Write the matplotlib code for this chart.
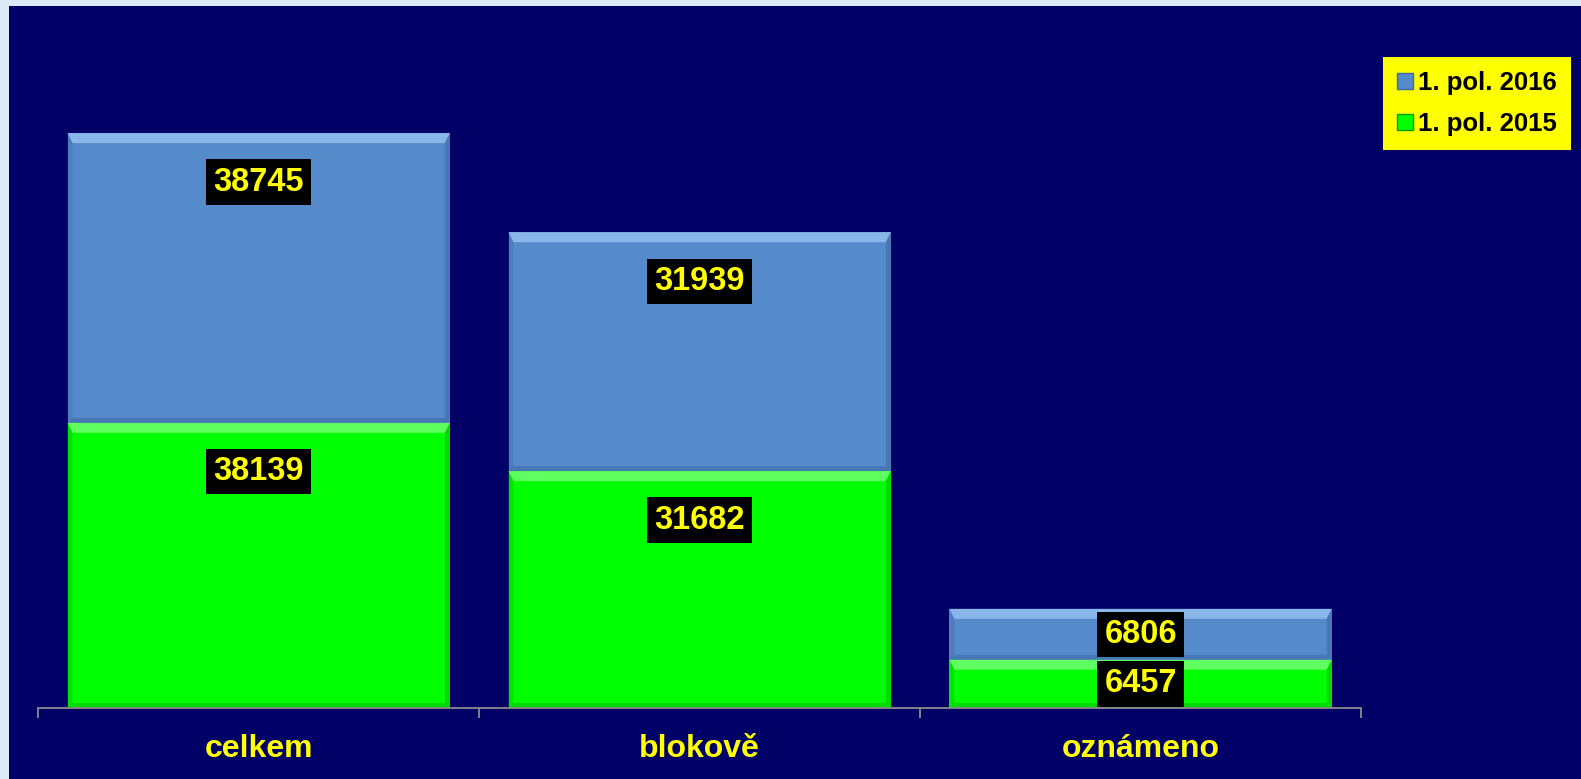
import matplotlib
matplotlib.use("Agg")
import matplotlib.pyplot as plt
from matplotlib.patches import Polygon, Rectangle, Patch

plt.rcParams['font.family'] = ['Liberation Sans', 'DejaVu Sans']

categories = ['celkem', 'blokově', 'oznámeno']
series_names = ['1. pol. 2015', '1. pol. 2016']
values_2015 = [38139, 31682, 6457]
values_2016 = [38745, 31939, 6806]

NAVY = '#000066'
YELLOW = '#FFFF00'
col_2015 = '#00FF00'
col_2016 = '#568BCB'
bevel_2015 = ('#70FF70', '#00C000')
bevel_2016 = ('#93BFF0', '#3E6BA5')

fig = plt.figure(figsize=(15.81, 7.79), dpi=100, facecolor='#DCEAF7')
# navy panel (light frame visible on the left and top only)
fig.patches.append(Rectangle((9 / 1581, 0), 1, 1 - 6 / 779, transform=fig.transFigure,
                             facecolor=NAVY, edgecolor='none', zorder=-5))

ax = fig.add_axes([38.3 / 1581, 71 / 779, 1322.7 / 1581, 673 / 779])
ax.set_zorder(2)
ax.set_facecolor('none')
ax.set_xlim(-0.5, 2.5)
ax.set_ylim(0, 90000)

x = range(len(categories))
bars15 = ax.bar(x, values_2015, width=0.867, color=col_2015, zorder=2)
bars16 = ax.bar(x, values_2016, bottom=values_2015, width=0.867, color=col_2016, zorder=2)


def bevel(rect, light, dark, dt=10, ds=5):
    x0, y0 = ax.transData.transform((rect.get_x(), rect.get_y()))
    x1, y1 = ax.transData.transform((rect.get_x() + rect.get_width(),
                                     rect.get_y() + rect.get_height()))
    parts = [
        ([(x0, y1), (x1, y1), (x1 - ds, y1 - dt), (x0 + ds, y1 - dt)], light, 0.85),
        ([(x1, y1), (x1, y0), (x1 - ds, y0 + ds), (x1 - ds, y1 - dt)], dark, 0.6),
        ([(x0, y0), (x1, y0), (x1 - ds, y0 + ds), (x0 + ds, y0 + ds)], dark, 0.6),
        ([(x0, y1), (x0, y0), (x0 + ds, y0 + ds), (x0 + ds, y1 - dt)], dark, 0.4),
    ]
    for pts, c, a in parts:
        ax.add_artist(Polygon(pts, closed=True, transform=None, facecolor=c,
                              edgecolor='none', alpha=a, zorder=3))


for b in bars15:
    bevel(b, *bevel_2015)
for b in bars16:
    bevel(b, *bevel_2016)

# data labels: near top of the segment, centred when the segment is short
px = 90000 / (673)
offset = 49 * px
for i in x:
    for bottom, val in ((0, values_2015[i]), (values_2015[i], values_2016[i])):
        top = bottom + val
        y = max(top - offset, bottom + val / 2)
        ax.text(i, y, str(val), ha='center', va='center', fontsize=23.5,
                fontweight='bold', color=YELLOW, zorder=5,
                bbox=dict(boxstyle='square,pad=0.22', fc='black', ec='none'))

for s in ['top', 'right', 'left']:
    ax.spines[s].set_visible(False)
ax.spines['bottom'].set_color('#8C8C8C')
ax.spines['bottom'].set_linewidth(1.3)
ax.spines['bottom'].set_zorder(4)
ax.set_yticks([])
ax.set_xticks(list(x))
ax.set_xticklabels(categories, fontsize=23, fontweight='bold', color=YELLOW)
ax.tick_params(axis='x', which='major', length=0, pad=19)
ax.set_xticks([-0.5, 0.5, 1.5, 2.5], minor=True)
ax.tick_params(axis='x', which='minor', length=7, width=1.3, color='#8C8C8C',
               direction='out')

handles = [Patch(facecolor=col_2016, edgecolor='#3E6BA5', label=series_names[1]),
           Patch(facecolor=col_2015, edgecolor='#00A000', label=series_names[0])]
leg = fig.legend(handles=handles, loc='upper right',
                 bbox_to_anchor=(1571 / 1581, 1 - 57 / 779),
                 prop={'weight': 'bold', 'size': 18.5}, frameon=True, fancybox=False,
                 facecolor=YELLOW, edgecolor='none', framealpha=1,
                 handlelength=0.6, handleheight=0.6, handletextpad=0.2,
                 labelspacing=0.65, borderpad=0.55, borderaxespad=0)
leg.set_zorder(10)

fig.savefig('out.png', dpi=100, facecolor=fig.get_facecolor())
